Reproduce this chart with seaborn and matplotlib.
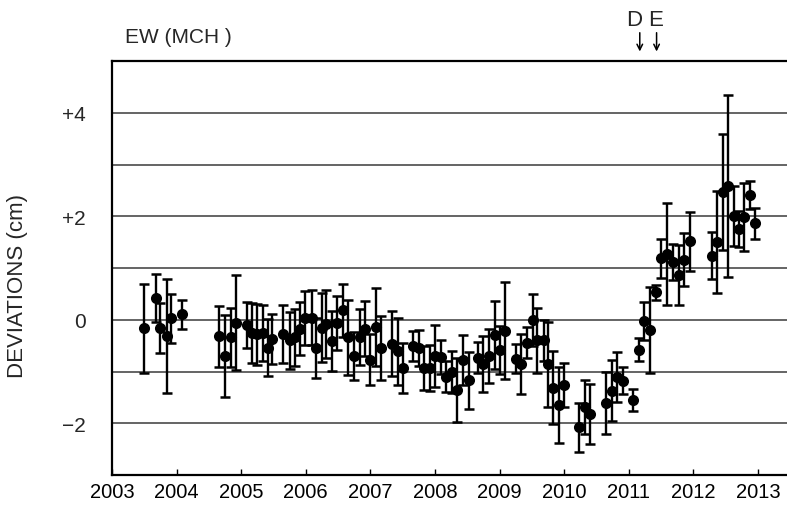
import matplotlib
matplotlib.use("Agg")
import matplotlib.pyplot as plt
import seaborn as sns
import pandas as pd

# Epoch (decimal year) of each EW deviation estimate
years = [
    2003.50, 2003.68, 2003.75, 2003.85, 2003.92, 2004.09,
    2004.66, 2004.75, 2004.84, 2004.92, 2005.09, 2005.16, 2005.24, 2005.33,
    2005.41, 2005.48, 2005.65, 2005.76, 2005.83, 2005.91, 2005.99,
    2006.09, 2006.16, 2006.25, 2006.32, 2006.41, 2006.49, 2006.58, 2006.66,
    2006.75, 2006.84, 2006.92, 2006.99,
    2007.09, 2007.16, 2007.34, 2007.42, 2007.50, 2007.66, 2007.76, 2007.83,
    2007.92, 2008.00,
    2008.09, 2008.17, 2008.26, 2008.34, 2008.43, 2008.52, 2008.67, 2008.74,
    2008.84, 2008.93, 2009.01,
    2009.09, 2009.25, 2009.33, 2009.43, 2009.51, 2009.58, 2009.68, 2009.75,
    2009.83, 2009.92, 2010.00,
    2010.23, 2010.32, 2010.40, 2010.64, 2010.74, 2010.82, 2010.91,
    2011.06, 2011.16, 2011.24, 2011.33, 2011.42, 2011.50, 2011.59, 2011.68,
    2011.77, 2011.86, 2011.95,
    2012.29, 2012.37, 2012.46, 2012.54, 2012.63, 2012.71, 2012.78, 2012.88,
    2012.95,
]

# Deviation (cm)
deviation = [
    -0.16, 0.42, -0.16, -0.31, 0.03, 0.11,
    -0.32, -0.70, -0.34, -0.06, -0.10, -0.25, -0.28, -0.25,
    -0.54, -0.37, -0.28, -0.40, -0.34, -0.17, 0.04,
    0.04, -0.54, -0.15, -0.08, -0.41, -0.06, 0.18, -0.34,
    -0.70, -0.34, -0.17, -0.77,
    -0.14, -0.54, -0.46, -0.61, -0.93, -0.51, -0.54, -0.93,
    -0.93, -0.70,
    -0.72, -1.10, -1.01, -1.36, -0.78, -1.17, -0.73, -0.85,
    -0.70, -0.29, -0.59,
    -0.21, -0.75, -0.86, -0.44, -0.01, -0.40, -0.40, -0.86,
    -1.31, -1.65, -1.26,
    -2.08, -1.68, -1.83, -1.60, -1.37, -1.10, -1.18,
    -1.55, -0.58, -0.03, -0.19, 0.53, 1.19, 1.27, 1.12,
    0.87, 1.16, 1.52,
    1.24, 1.50, 2.47, 2.59, 2.00, 1.75, 1.99, 2.41,
    1.86,
]

# Half-length of each error bar (cm)
error = [
    0.86, 0.47, 0.49, 1.10, 0.47, 0.28,
    0.59, 0.79, 0.57, 0.92, 0.44, 0.58, 0.59, 0.54,
    0.55, 0.49, 0.56, 0.55, 0.55, 0.52, 0.52,
    0.53, 0.58, 0.67, 0.65, 0.58, 0.52, 0.52, 0.72,
    0.46, 0.54, 0.54, 0.49,
    0.76, 0.62, 0.62, 0.65, 0.48, 0.29, 0.35, 0.43,
    0.44, 0.60,
    0.33, 0.30, 0.41, 0.62, 0.48, 0.55, 0.30, 0.54,
    0.52, 0.66, 0.46,
    0.94, 0.28, 0.58, 0.30, 0.50, 0.63, 0.40, 0.82,
    0.70, 0.73, 0.43,
    0.47, 0.52, 0.58, 0.60, 0.59, 0.48, 0.26,
    0.21, 0.22, 0.37, 0.83, 0.14, 0.38, 0.98, 0.35,
    0.58, 0.51, 0.57,
    0.45, 0.98, 1.12, 1.76, 0.58, 0.35, 0.66, 0.27,
    0.29,
]

year_ticks = list(range(2003, 2014))
y_grid = [-2, -1, 0, 1, 2, 3, 4]
y_labels = {4: "+4", 2: "+2", 0: "0", -2: "\u22122"}

# Event markers above the frame
events = ["D", "E"]
event_years = [2011.17, 2011.43]

df = pd.DataFrame({"year": years, "deviation": deviation, "error": error})

sns.set_theme(style="white")
plt.rcParams["font.family"] = ["Liberation Sans", "DejaVu Sans"]

W, H = 787, 506
fig = plt.figure(figsize=(W / 100, H / 100), dpi=100)
ax = fig.add_axes([112 / W, 30 / H, (W - 112) / W, (476 - 62) / H])

# Error bars, then filled dots on top
ax.errorbar(df["year"], df["deviation"], yerr=df["error"], fmt="none",
            ecolor="black", elinewidth=1.7, capsize=3.4, capthick=1.8,
            zorder=3)
sns.scatterplot(data=df, x="year", y="deviation", ax=ax, color="black",
                s=64, edgecolor="black", linewidth=0, zorder=4, legend=False)

ax.set_xlim(2003, 2003 + (W - 112) / 64.6)
ax.set_ylim(-3, 5)

for g in y_grid:
    ax.axhline(g, color="#4a4a4a", linewidth=1.2, zorder=1)

ax.set_yticks(list(y_labels.keys()))
ax.set_yticklabels(list(y_labels.values()), fontsize=15)
ax.tick_params(axis="y", length=0, pad=19)

ax.set_xticks(year_ticks)
ax.set_xticklabels([str(y) for y in year_ticks], fontsize=14.5,
                   family=["Liberation Sans Narrow", "Liberation Sans"])
ax.tick_params(axis="x", direction="in", length=4, width=1, pad=5,
               bottom=True, colors="black")

ax.set_xlabel("")
ax.set_ylabel("")
for side in ["left", "bottom", "top"]:
    ax.spines[side].set_visible(True)
    ax.spines[side].set_color("black")
    ax.spines[side].set_linewidth(1.6)
ax.spines["right"].set_visible(False)

fig.text(18 / W, 1 - 286 / H, "DEVIATIONS (cm)", rotation=90, fontsize=16,
         ha="center", va="center")
fig.text(125 / W, 1 - 43 / H, "EW (MCH )", fontsize=15, ha="left",
         va="baseline")

label_shift = [-0.08, -0.01]
for label, yr, dx in zip(events, event_years, label_shift):
    ax.annotate("", xy=(yr, 5.13), xytext=(yr, 5.6),
                arrowprops=dict(arrowstyle="->", color="black", lw=1.1,
                                mutation_scale=10),
                annotation_clip=False)
    ax.text(yr + dx, 5.8, label, fontsize=16, ha="center", va="center",
            clip_on=False)

fig.savefig("out.png", dpi=100)
